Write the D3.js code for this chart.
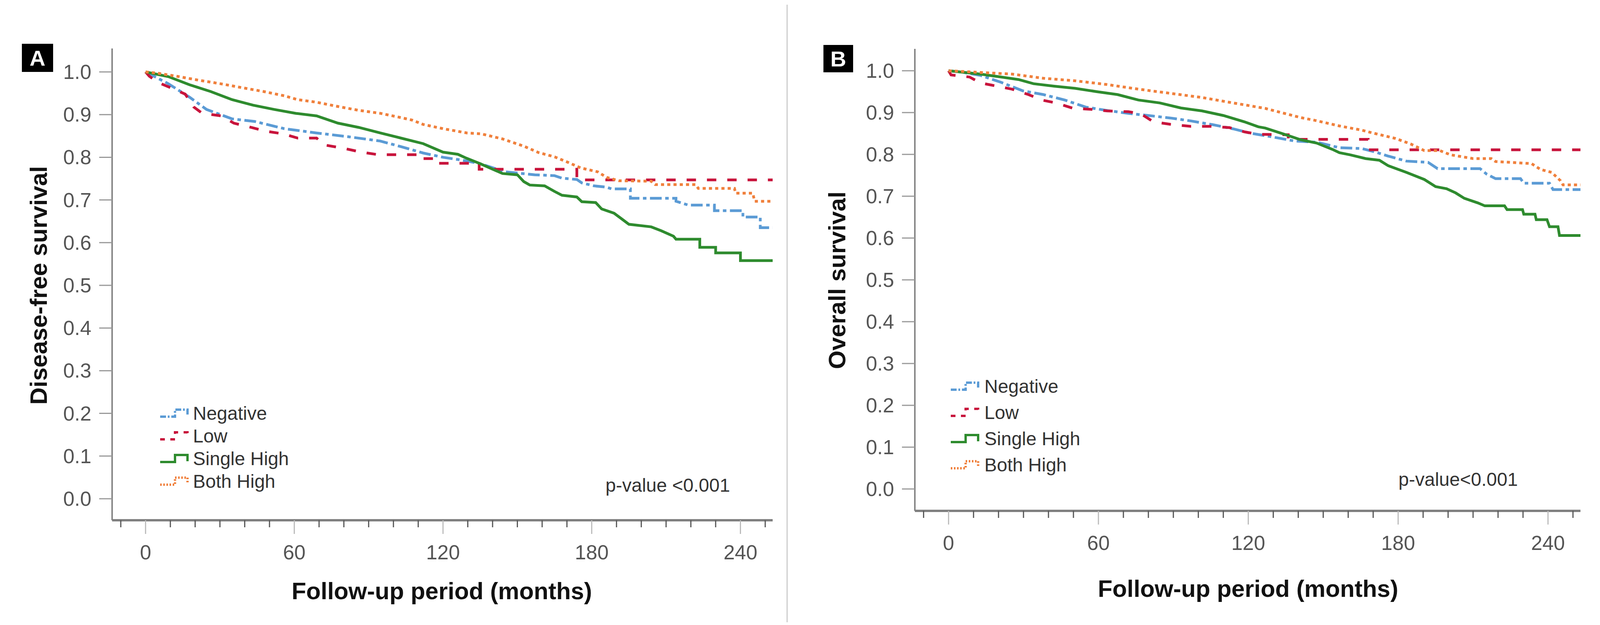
<!DOCTYPE html>
<head>
  <meta charset="utf-8">
  <title>Survival curves</title>
  <script src="https://d3js.org/d3.v7.min.js"></script>
  <style>
    body { margin: 0; background: #fff; }
    svg { display: block; background: #fff; }

    .tick-label {
      font-family: "Liberation Sans", Arial, sans-serif;
      font-size: 52px;
      fill: #555;
    }

    .axis-title {
      font-family: "Liberation Sans", Arial, sans-serif;
      font-weight: bold;
      font-size: 61px;
      fill: #111;
    }

    .legend-text, .pval {
      font-family: "Liberation Sans", Arial, sans-serif;
      font-size: 48px;
      fill: #333;
    }

    .panel-letter {
      font-family: "Liberation Sans", Arial, sans-serif;
      font-weight: bold;
      font-size: 56px;
      fill: #fff;
    }

    .curve { fill: none; stroke-width: 7px; }
  </style>
</head>

<body>
  <script>
    var width = 4136, height = 1599;

    // groups and how each is drawn
    var groups = ["Negative", "Low", "Single High", "Both High"];
    var colours = ["#5b9bd5", "#c8143c", "#2e8b2e", "#f0803c"];
    var dashes = ["30,9,9,9", "24,28", null, "8,8"];

    var yTicks = [0.0, 0.1, 0.2, 0.3, 0.4, 0.5, 0.6, 0.7, 0.8, 0.9, 1.0];
    var xTicks = [0, 60, 120, 180, 240];
    var xDomain = [-13.5, 253];

    // Disease-free survival, [month, survival]
    var dfsNegative = [[0,1.0],[9,0.973],[17.7,0.941],[24.6,0.912],[34.9,0.890],[44,0.884],[56,0.867],[69,0.857],[82,0.848],[94.7,0.838],[103,0.825],[112,0.810],[120,0.800],[128,0.793],[135,0.785],[145,0.766],[157,0.759],[165,0.757],[168,0.751],[174,0.748],[176,0.740],[181,0.733],[186,0.730],[188,0.726],[195.6,0.726],[195.6,0.704],[214,0.704],[214,0.697],[219,0.688],[229.5,0.688],[229.5,0.675],[241,0.675],[241,0.660],[248,0.660],[248,0.635],[253,0.635]];
    var dfsLow = [[0,1.0],[1.5,0.99],[4.8,0.976],[10.9,0.961],[16,0.948],[19.4,0.918],[22.9,0.903],[30.6,0.897],[35.6,0.880],[42.6,0.870],[48.6,0.861],[55.4,0.855],[61.4,0.845],[69,0.845],[72,0.829],[80,0.821],[87,0.812],[94,0.806],[112,0.806],[112,0.797],[119,0.797],[119,0.786],[134.6,0.786],[134.6,0.772],[174,0.772],[174,0.747],[253,0.747]];
    var dfsSingle = [[0,1.0],[9.2,0.989],[17.7,0.970],[26.3,0.954],[34.9,0.935],[43.4,0.922],[52,0.912],[60.6,0.903],[69,0.897],[77.6,0.880],[86,0.870],[94.7,0.857],[103,0.845],[112,0.832],[120,0.812],[126,0.807],[129.4,0.798],[135,0.785],[144,0.762],[150,0.759],[152.6,0.743],[155,0.735],[161,0.733],[165,0.720],[168,0.711],[174,0.707],[176,0.696],[181.6,0.694],[184,0.679],[189,0.669],[192.7,0.653],[195,0.643],[204,0.637],[208,0.628],[213,0.615],[214,0.608],[223.6,0.608],[223.6,0.589],[230,0.589],[230,0.576],[240,0.576],[240,0.558],[253,0.558]];
    var dfsBoth = [[0,1.0],[5,0.997],[13.4,0.989],[22,0.980],[30.6,0.972],[39,0.963],[47.7,0.954],[56,0.944],[61.4,0.935],[69,0.929],[77.6,0.919],[86,0.910],[94.7,0.903],[103,0.893],[107.6,0.887],[112,0.877],[120,0.867],[129.7,0.857],[135.4,0.855],[144,0.843],[152.6,0.826],[158.6,0.811],[165,0.801],[170.5,0.788],[175.6,0.775],[182.4,0.766],[186,0.753],[191,0.745],[204,0.744],[205.6,0.736],[222,0.736],[223,0.727],[237.6,0.727],[238,0.716],[245,0.716],[245.7,0.697],[253,0.697]];

    // Overall survival, [month, survival]
    var osNegative = [[0,1.0],[5,0.997],[12.7,0.989],[21.2,0.972],[29.7,0.952],[38,0.943],[46.5,0.930],[55,0.913],[63.5,0.905],[72,0.898],[80,0.893],[88.8,0.887],[97,0.880],[105.8,0.871],[114,0.861],[120.6,0.851],[129.5,0.842],[138.5,0.832],[147.4,0.829],[156.5,0.816],[165.4,0.814],[170.7,0.806],[176,0.796],[183.3,0.784],[192,0.781],[195.8,0.766],[212.8,0.766],[215.4,0.753],[219,0.742],[229,0.742],[230.3,0.731],[240.6,0.731],[242,0.716],[253,0.716]];
    var osLow = [[0,1.0],[1,0.99],[8.4,0.985],[12.7,0.971],[19.5,0.963],[25.4,0.956],[32,0.943],[37.3,0.930],[43,0.923],[50,0.910],[56.6,0.908],[63.5,0.904],[72,0.902],[77,0.897],[82,0.878],[88.8,0.872],[97,0.867],[105,0.867],[112.5,0.864],[118.4,0.854],[124,0.848],[136,0.847],[136,0.836],[168,0.836],[168,0.811],[253,0.811]];
    var osSingle = [[0,1.0],[12.7,0.992],[21,0.985],[28,0.979],[34,0.969],[42.3,0.963],[50.7,0.958],[59.3,0.950],[67.7,0.943],[76,0.930],[84.6,0.923],[93,0.911],[101.5,0.904],[110,0.893],[118.4,0.878],[124,0.866],[126.8,0.863],[134,0.849],[141,0.835],[147.4,0.827],[153.7,0.812],[156.5,0.804],[160.8,0.799],[167,0.790],[172.5,0.786],[176,0.773],[183.3,0.757],[190.5,0.740],[195,0.723],[199.4,0.718],[203,0.708],[206.5,0.695],[211.9,0.684],[214.7,0.677],[222.6,0.677],[223.6,0.668],[229.8,0.668],[230.3,0.657],[234.8,0.657],[235.3,0.644],[239.6,0.644],[240.6,0.627],[244,0.627],[244.6,0.606],[253,0.606]];
    var osBoth = [[0,1.0],[12.7,0.996],[25.4,0.992],[38,0.982],[50.7,0.976],[63.5,0.967],[76,0.956],[88.8,0.946],[101.5,0.936],[114,0.923],[126.8,0.910],[141,0.888],[147,0.881],[156.5,0.868],[165.4,0.858],[170,0.851],[179,0.838],[185,0.825],[190.5,0.809],[196.7,0.809],[201,0.799],[210,0.790],[217.3,0.790],[219,0.783],[233.4,0.778],[237,0.764],[241.5,0.757],[245,0.737],[246,0.727],[253,0.727]];

    var svg = d3.select("body").append("svg")
      .attr("width", width)
      .attr("height", height);

    // thin divider between the two panels
    svg.append("line")
      .attr("x1", 2015).attr("x2", 2015)
      .attr("y1", 12).attr("y2", 1592)
      .attr("stroke", "#ccc")
      .attr("stroke-width", 3);

    var panels = [
      {letter: "A", box: [56, 112, 80, 72], left: 287, right: 1978, top: 124, axisY: 1331, y0: 1276, y1: 184,
       title: "Disease-free survival", titleX: 99, titleY: 730, xTitleX: 1131, xTitleY: 1533,
       legend: {x: 410, y: 1057, dy: 58, textX: 494}, pval: {x: 1550, y: 1258, text: "p-value <0.001"},
       series: [dfsNegative, dfsLow, dfsSingle, dfsBoth]},
      {letter: "B", box: [2108, 115, 76, 70], left: 2342, right: 4046, top: 125, axisY: 1307, y0: 1251, y1: 181,
       title: "Overall survival", titleX: 2143, titleY: 717, xTitleX: 3195, xTitleY: 1527,
       legend: {x: 2434, y: 988, dy: 67, textX: 2520}, pval: {x: 3580, y: 1243, text: "p-value<0.001"},
       series: [osNegative, osLow, osSingle, osBoth]}
    ];

    panels.forEach(drawPanel);

    function drawPanel(p) {
      var g = svg.append("g");

      var x = d3.scaleLinear().domain(xDomain).range([p.left, p.right]);
      var y = d3.scaleLinear().domain([0, 1]).range([p.y0, p.y1]);

      // panel letter
      g.append("rect")
        .attr("x", p.box[0]).attr("y", p.box[1])
        .attr("width", p.box[2]).attr("height", p.box[3])
        .attr("fill", "#000");
      g.append("text")
        .attr("class", "panel-letter")
        .attr("x", p.box[0] + p.box[2] / 2)
        .attr("y", p.box[1] + p.box[3] / 2 + 20)
        .attr("text-anchor", "middle")
        .text(p.letter);

      // y axis
      g.append("line")
        .attr("x1", p.left).attr("x2", p.left)
        .attr("y1", p.top).attr("y2", p.axisY)
        .attr("stroke", "#888").attr("stroke-width", 4);
      g.selectAll(".ytick").data(yTicks).enter().append("line")
        .attr("x1", p.left - 33).attr("x2", p.left)
        .attr("y1", d => y(d)).attr("y2", d => y(d))
        .attr("stroke", "#999").attr("stroke-width", 3);
      g.selectAll(".ylab").data(yTicks).enter().append("text")
        .attr("class", "tick-label")
        .attr("x", p.left - 53)
        .attr("y", d => y(d) + 18)
        .attr("text-anchor", "end")
        .text(d => d.toFixed(1));

      // x axis
      g.append("line")
        .attr("x1", p.left).attr("x2", p.right)
        .attr("y1", p.axisY).attr("y2", p.axisY)
        .attr("stroke", "#808080").attr("stroke-width", 6);
      var minor = d3.range(-10, 251, 10);
      g.selectAll(".xtick").data(minor).enter().append("line")
        .attr("x1", d => x(d)).attr("x2", d => x(d))
        .attr("y1", p.axisY)
        .attr("y2", d => p.axisY + (d % 60 === 0 ? 35 : 18))
        .attr("stroke", d => d % 60 === 0 ? "#bbb" : "#555")
        .attr("stroke-width", 3);
      g.selectAll(".xlab").data(xTicks).enter().append("text")
        .attr("class", "tick-label")
        .attr("x", d => x(d))
        .attr("y", p.axisY + 100)
        .attr("text-anchor", "middle")
        .text(d => d);

      // titles
      g.append("text")
        .attr("class", "axis-title")
        .attr("transform", "translate(" + [p.titleX, p.titleY] + ") rotate(-90)")
        .attr("dy", "0.35em")
        .attr("text-anchor", "middle")
        .text(p.title);
      g.append("text")
        .attr("class", "axis-title")
        .attr("x", p.xTitleX).attr("y", p.xTitleY)
        .attr("text-anchor", "middle")
        .text("Follow-up period (months)");

      // curves
      var line = d3.line()
        .x(d => x(d[0]))
        .y(d => y(d[1]));

      g.selectAll(".curve").data(p.series).enter().append("path")
        .attr("class", "curve")
        .attr("d", line)
        .attr("stroke", (d, i) => colours[i])
        .attr("stroke-dasharray", (d, i) => dashes[i]);

      // legend
      var leg = g.selectAll(".legend").data(groups).enter().append("g")
        .attr("transform", (d, i) => "translate(0," + (p.legend.y + i * p.legend.dy) + ")");
      leg.append("path")
        .attr("d", "M" + p.legend.x + ",9H" + (p.legend.x + 38) + "V-9H" + (p.legend.x + 70) + "V7")
        .attr("fill", "none")
        .attr("stroke", (d, i) => colours[i])
        .attr("stroke-width", 6)
        .attr("stroke-dasharray", (d, i) => dashes[i] ? dashes[i].split(",").map(v => v * 0.5).join(",") : null);
      leg.append("text")
        .attr("class", "legend-text")
        .attr("x", p.legend.textX)
        .attr("y", 17)
        .text(d => d);

      g.append("text")
        .attr("class", "pval")
        .attr("x", p.pval.x).attr("y", p.pval.y)
        .text(p.pval.text);
    }
  </script>
</body>
